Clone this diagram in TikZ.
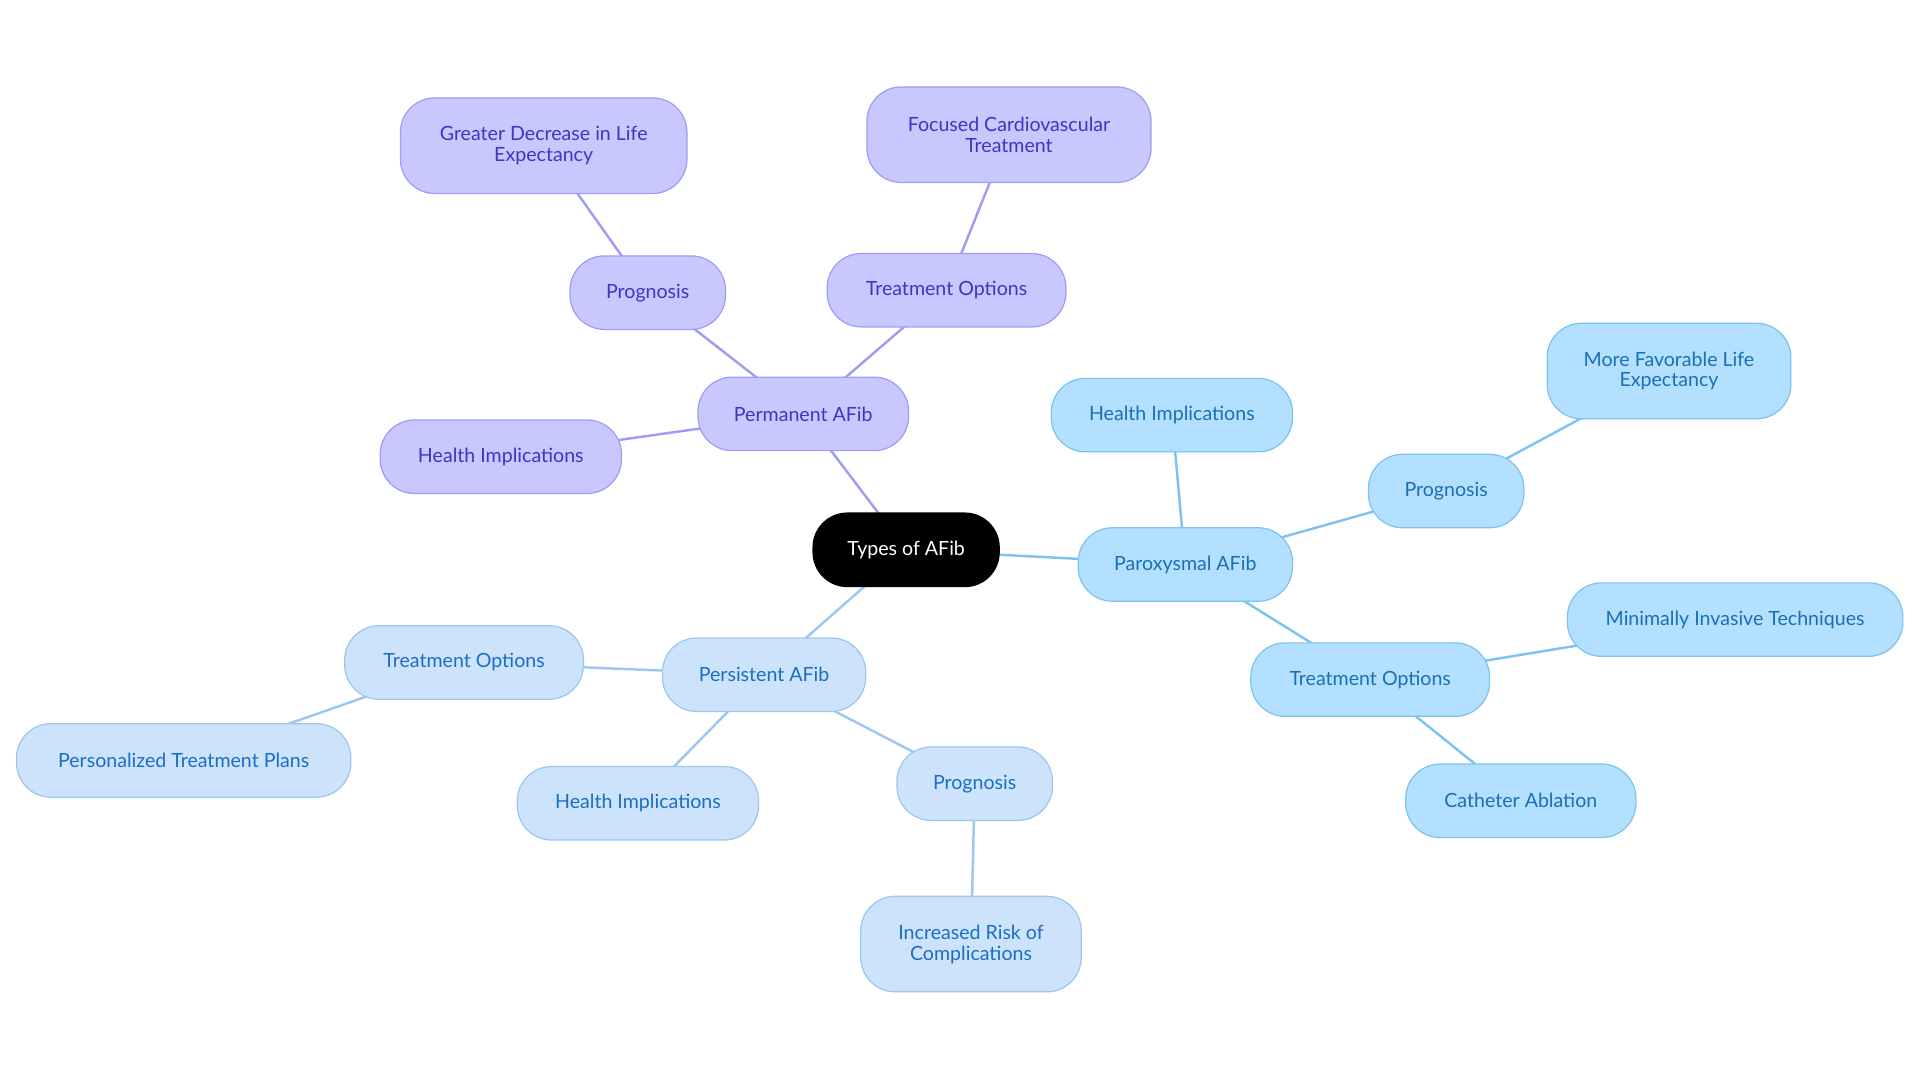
\documentclass[tikz,border=0pt]{standalone}
\usepackage{fontspec}
\setmainfont{Lato}
\usetikzlibrary{backgrounds}
\definecolor{pf}{HTML}{C9C8FE}\definecolor{pb}{HTML}{A09CF2}\definecolor{pt}{HTML}{3D35C4}
\definecolor{xf}{HTML}{B3E0FE}\definecolor{xb}{HTML}{7DC3F0}\definecolor{xt}{HTML}{1A6FB5}
\definecolor{sf}{HTML}{CCE3FB}\definecolor{sb}{HTML}{9DC6F0}\definecolor{st}{HTML}{1A6FC4}
\tikzset{
 box/.style={rounded corners=28pt,line width=1pt,align=center,font=\fontsize{16}{17}\selectfont,inner sep=0pt},
 perm/.style={box,fill=pf,draw=pb,text=pt},
 parx/.style={box,fill=xf,draw=xb,text=xt},
 pers/.style={box,fill=sf,draw=sb,text=st},
 pe/.style={draw=pb,line width=2pt},
 xe/.style={draw=xb,line width=2pt},
 se/.style={draw=sb,line width=2pt},
}
\newcommand{\bx}[7]{\node[#1,minimum width=#5pt,minimum height=#6pt] (#2) at (#3,#4) {#7};}
\begin{document}
\begin{tikzpicture}[x=1pt,y=-1pt]
\useasboundingbox (0,0) rectangle (1568,884);
\node[box,fill=black!90!blue!60!black,fill=black,draw=black,text=white,minimum width=152pt,minimum height=60pt] (c) at (740,449) {Types of AFib};
\bx{perm}{pa}{656}{338}{172}{60}{Permanent AFib}
\bx{perm}{pp}{529}{239}{127}{60}{Prognosis}
\bx{perm}{pg}{444}{119}{234}{78}{Greater Decrease in Life\\Expectancy}
\bx{perm}{pt1}{773}{237}{195}{60}{Treatment Options}
\bx{perm}{pfc}{824}{110}{232}{78}{Focused Cardiovascular\\Treatment}
\bx{perm}{ph}{409}{373}{197}{60}{Health Implications}
\bx{parx}{xa}{968}{461}{175}{60}{Paroxysmal AFib}
\bx{parx}{xh}{957}{339}{197}{60}{Health Implications}
\bx{parx}{xp}{1181}{401}{127}{60}{Prognosis}
\bx{parx}{xm}{1363}{303}{199}{78}{More Favorable Life\\Expectancy}
\bx{parx}{xt1}{1119}{555}{195}{60}{Treatment Options}
\bx{parx}{xmi}{1417}{506}{274}{60}{Minimally Invasive Techniques}
\bx{parx}{xc}{1242}{654}{188}{60}{Catheter Ablation}
\bx{pers}{sa}{624}{551}{166}{60}{Persistent AFib}
\bx{pers}{st1}{379}{541}{195}{60}{Treatment Options}
\bx{pers}{spt}{150}{621}{273}{60}{Personalized Treatment Plans}
\bx{pers}{sh}{521}{656}{197}{60}{Health Implications}
\bx{pers}{sp}{796}{640}{127}{60}{Prognosis}
\bx{pers}{si}{793}{771}{180}{78}{Increased Risk of\\Complications}
\begin{scope}[on background layer]
\draw[pe] (c.center)--(pa.center) (pa.center)--(pp.center) (pp.center)--(pg.center) (pa.center)--(pt1.center) (pt1.center)--(pfc.center) (pa.center)--(ph.center);
\draw[xe] (c.center)--(xa.center) (xa.center)--(xh.center) (xa.center)--(xp.center) (xp.center)--(xm.center) (xa.center)--(xt1.center) (xt1.center)--(xmi.center) (xt1.center)--(xc.center);
\draw[se] (c.center)--(sa.center) (sa.center)--(st1.center) (st1.center)--(spt.center) (sa.center)--(sh.center) (sa.center)--(sp.center) (sp.center)--(si.center);
\end{scope}
\end{tikzpicture}
\end{document}
